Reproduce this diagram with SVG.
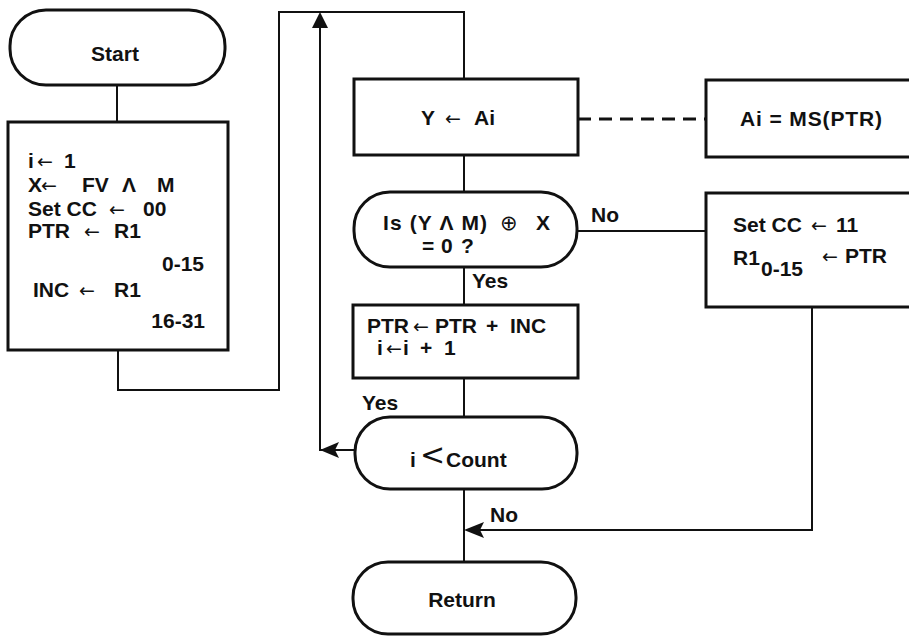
<svg xmlns="http://www.w3.org/2000/svg" width="909" height="638" viewBox="0 0 909 638">
<defs>
<style>
.box{fill:#fff;stroke:#111;stroke-width:3}
.ln{fill:none;stroke:#111;stroke-width:2}
.dash{fill:none;stroke:#111;stroke-width:3;stroke-dasharray:13 8}
text{font-family:"Liberation Sans",Arial,"DejaVu Sans",sans-serif;font-weight:bold;font-size:21px;fill:#111}
.a{font-family:"DejaVu Sans",sans-serif;font-weight:normal;font-size:19px}
.c{text-anchor:middle}
.e{text-anchor:end}
.ah{fill:#111;stroke:none}
</style>
</defs>
<rect width="909" height="638" fill="#fff"/>
<g id="connectors">
<path class="ln" d="M117,85 V122"/>
<path class="ln" d="M118,350 V390 H279 V12 H464 V79"/>
<path class="ln" d="M464,155 V192"/>
<path class="ln" d="M464,267 V305"/>
<path class="ln" d="M464,378 V417"/>
<path class="ln" d="M464,489 V562"/>
<path class="ln" d="M355,450 H320 V20"/>
<polygon class="ah" points="320,12 312,28 328,28"/>
<polygon class="ah" points="320,450 339,442 335,450 339,458"/>
<path class="ln" d="M577,231 H706"/>
<path class="ln" d="M812,307 V530 H470"/>
<polygon class="ah" points="464,530 484,522 480,530 484,538"/>
<path class="dash" d="M578,119 H706"/>
<text x="591" y="222">No</text>
<text x="472" y="288">Yes</text>
<text x="362" y="410">Yes</text>
<text x="490" y="522">No</text>
</g>
<g id="start">
<rect class="box" x="10" y="10" width="215" height="75" rx="36"/>
<text class="c" x="115" y="61">Start</text>
</g>
<g id="init">
<rect class="box" x="8" y="122" width="220" height="228"/>
<text y="168"><tspan x="28">i</tspan><tspan class="a" x="37">←</tspan><tspan x="64">1</tspan></text>
<text y="192"><tspan x="28">X</tspan><tspan class="a" x="41">←</tspan><tspan x="82">FV</tspan><tspan x="122">Λ</tspan><tspan x="157">M</tspan></text>
<text y="216"><tspan x="28">Set CC</tspan><tspan class="a" x="109">←</tspan><tspan x="143">00</tspan></text>
<text y="238"><tspan x="28">PTR</tspan><tspan class="a" x="84">←</tspan><tspan x="114">R1</tspan></text>
<text class="e" x="204" y="271">0-15</text>
<text y="297"><tspan x="33">INC</tspan><tspan class="a" x="79">←</tspan><tspan x="114">R1</tspan></text>
<text class="e" x="205" y="328">16-31</text>
</g>
<g id="load">
<rect class="box" x="354" y="79" width="224" height="76"/>
<text y="125"><tspan x="421">Y</tspan><tspan class="a" x="445">←</tspan><tspan x="474">Ai</tspan></text>
</g>
<g id="ms">
<rect class="box" x="706" y="80" width="215" height="77"/>
<text x="740" y="126" textLength="142">Ai = MS(PTR)</text>
</g>
<g id="compare">
<rect class="box" x="354" y="192" width="223" height="75" rx="36"/>
<text x="383" y="230" textLength="104">Is (Y Λ M)</text>
<text x="500" y="230" class="a" style="font-size:21px">⊕</text>
<text x="536" y="230">X</text>
<text y="253"><tspan x="422">=</tspan><tspan x="441">0</tspan><tspan x="461">?</tspan></text>
</g>
<g id="fail">
<rect class="box" x="706" y="193" width="215" height="114"/>
<text y="232"><tspan x="733">Set CC</tspan><tspan class="a" x="811">←</tspan><tspan x="836">11</tspan></text>
<text x="733" y="265">R1</text>
<text x="761" y="276">0-15</text>
<text y="263"><tspan class="a" x="822">←</tspan><tspan x="845">PTR</tspan></text>
</g>
<g id="incr">
<rect class="box" x="353" y="305" width="225" height="73"/>
<text y="333"><tspan x="367">PTR</tspan><tspan class="a" x="413">←</tspan><tspan x="435">PTR</tspan><tspan x="486">+</tspan><tspan x="510">INC</tspan></text>
<text y="355"><tspan x="377">i</tspan><tspan class="a" x="386">←</tspan><tspan x="403">i</tspan><tspan x="420">+</tspan><tspan x="444">1</tspan></text>
</g>
<g id="loop">
<rect class="box" x="355" y="417" width="222" height="72" rx="35"/>
<text x="410" y="467">i</text>
<text x="420" y="465" style="font-size:30px;font-weight:normal;font-family:'DejaVu Sans',sans-serif">&lt;</text>
<text x="446" y="467">Count</text>
</g>
<g id="return">
<rect class="box" x="353" y="562" width="223" height="72" rx="35"/>
<text class="c" x="462" y="607">Return</text>
</g>
</svg>
